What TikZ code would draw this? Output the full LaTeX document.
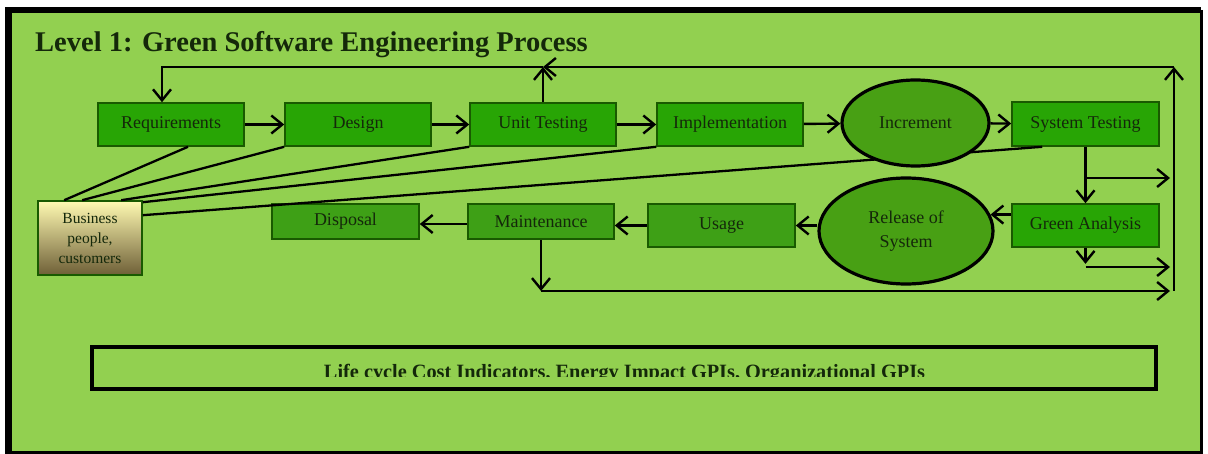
\documentclass[tikz,border=0pt]{standalone}
\usepackage{fontspec}
\setmainfont{Liberation Serif}
\usetikzlibrary{arrows.meta,shapes.geometric,calc}

\definecolor{bggreen}{RGB}{146,208,80}
\definecolor{boxgreen}{RGB}{40,165,5}
\definecolor{boxgreenb}{RGB}{62,160,22}
\definecolor{ovalgreen}{RGB}{72,160,20}
\definecolor{edgegreen}{RGB}{25,90,0}
\definecolor{bizTop}{RGB}{255,250,178}
\definecolor{bizBot}{RGB}{110,95,55}
\definecolor{inktext}{RGB}{20,40,10}

\begin{document}
\begin{tikzpicture}[x=1pt,y=-1pt,
  stage/.style={draw=edgegreen, line width=1.6pt, fill=boxgreen,
    minimum width=146pt, minimum height=43pt, inner sep=0pt,
    text=inktext, font=\fontsize{18}{20}\selectfont},
  stageb/.style={stage, fill=boxgreenb},
  oval/.style={ellipse, draw=black, line width=3.2pt, fill=ovalgreen,
    inner sep=0pt, align=center, text=inktext,
    font=\fontsize{18}{23.5}\selectfont},
  arr/.style={draw=black, line width=2.4pt,
    -{Straight Barb[length=11pt,width=18pt,line width=2.4pt]}},
  fan/.style={draw=black, line width=2.3pt},
]
\useasboundingbox (0,0) rectangle (1208,454);
\fill[white] (0,0) rectangle (1208,454);
% frame and background
\fill[bggreen] (8.5,10) rectangle (1200.5,451.5);
\draw[line width=7pt] (8.5,13) -- (8.5,451.5);
\draw[line width=6pt] (5,10) -- (1201,10);
\draw[line width=3pt] (1201,10) -- (1201,452.5) -- (5,452.5);

% title
\node[anchor=base west, inner sep=0pt, text=inktext,
  font=\fontsize{28.5}{30}\selectfont\bfseries] (title) at (35,52)
  {Level 1: Green Software Engineering Process};

% upper row of stages
\node[stage] (req)  at (171,124.5)   {Requirements};
\node[stage] (des)  at (358,124.5)   {Design};
\node[stage] (ut)   at (543,124.5)   {Unit Testing};
\node[stage] (impl) at (730,124.5)   {Implementation};
\node[stage, minimum width=147pt, minimum height=44pt] (st) at (1085.5,124) {System Testing};

% lower row of stages
\node[stage, minimum width=147pt] (ga) at (1085.5,225.5) {Green Analysis};
\node[stageb, minimum width=147pt] (usage) at (721.5,225.5) {Usage};
\node[stageb, minimum height=35pt] (maint) at (541,221.5) {Maintenance};
\node[stageb, minimum width=147pt, minimum height=35pt] (disp) at (345.5,221.5) {Disposal};

% stakeholders
\node[draw=edgegreen, line width=1.6pt, top color=bizTop, bottom color=bizBot,
  minimum width=104pt, minimum height=74pt, inner sep=0pt, align=center,
  text=inktext, font=\fontsize{15.5}{20}\selectfont] (biz) at (90,238)
  {Business\\people,\\customers};

% stakeholder links
\draw[fan] ([xshift=17pt]req.south) -- ([xshift=27pt]biz.north west);
\draw[fan] (des.south west) -- ([xshift=45pt]biz.north west);
\draw[fan] (ut.south west) -- ([xshift=84pt]biz.north west);
\draw[fan] (impl.south west) -- ([yshift=-2pt]biz.north east);
\draw[fan] ([xshift=31pt]st.south west) -- ([yshift=-15pt]biz.north east);

% milestones
\node[oval, minimum width=147pt, minimum height=86pt] (inc) at (915.5,123) {Increment};
\node[oval, minimum width=174pt, minimum height=106pt] (rel) at (906,231) {Release of\\System};

% forward flow
\draw[arr] (req) -- (des);
\draw[arr] (des) -- (ut);
\draw[arr] (ut) -- (impl);
\draw[arr] (impl) -- (inc);
\draw[arr] (inc) -- (st);
\draw[arr] (st.south) -- (ga.north);
\draw[arr] (ga.west |- rel.11) -- (rel.11);
\draw[arr] (rel.west |- usage.east) -- (usage.east);
\draw[arr] (usage.west) -- (maint.east |- usage.west);
\draw[arr] (maint.west |- 0,224) -- (disp.east |- 0,224);

% feedback loops
\coordinate (rt) at (1174,67);
\coordinate (rb) at (1174,291);
\coordinate (stx) at (1170,178);
\coordinate (gax) at (1170,267);
\coordinate (mx) at (1170,291);
\coordinate (rq) at ([xshift=-9pt]req.north);

\draw[arr] (st.south |- stx) -- (stx);
\draw[arr] (ga.south) -- ++(0,16);
\draw[arr] (ga.south |- gax) -- (gax);
\draw[arr] (maint.south) -- (maint.south |- mx);
\draw[arr] (maint.south |- mx) -- (mx);
\draw[arr] (rb) -- (rt);
\draw[arr] (rt) -- (ut.north |- rt);
\draw[arr] (ut.north) -- (ut.north |- rt);
\draw[arr] (ut.north |- rt) -- (rq |- rt) -- (rq);

% indicators
\node[draw=black, line width=3.2pt, minimum width=1064pt, minimum height=42pt,
  inner sep=0pt] (gpi) at (624,368) {};
\begin{scope}
  \clip (95,349) rectangle (1153,376.5);
  \node[anchor=base, inner sep=0pt, text=inktext,
    font=\fontsize{20.3}{22}\selectfont\bfseries]
    (gpitext) at (624.5,378)
    {Life cycle Cost Indicators, Energy Impact GPIs, Organizational GPIs};
\end{scope}
\end{tikzpicture}
\end{document}
